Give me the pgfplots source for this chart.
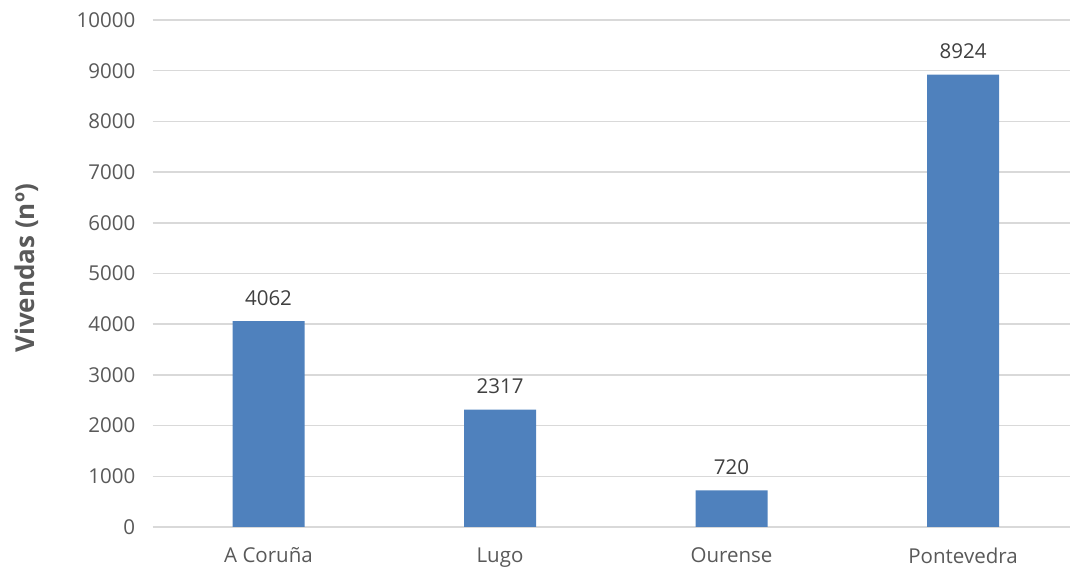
\documentclass[border=0pt]{standalone}
\usepackage{pgfplots}
\pgfplotsset{compat=1.18}
\usepackage{fontspec}
\setmainfont{Open Sans}
\definecolor{barc}{HTML}{4F81BD}
\definecolor{tickc}{HTML}{595959}
\definecolor{lblc}{HTML}{404040}
\definecolor{gridc}{HTML}{D9D9D9}
\begin{document}
\begin{tikzpicture}[x=1pt,y=1pt]
\path[use as bounding box] (-152.75,-40) rectangle (917.25,527);
\begin{axis}[at={(0,0)},anchor=south west, scale only axis,
  width=917.25pt, height=507pt,
  xmin=-0.5, xmax=3.462, ymin=0, ymax=10000,
  ytick={0,1000,...,10000}, xtick={0,1,2,3},
  xticklabels={A Coruña,Lugo,Ourense,Pontevedra},
  axis line style={draw=none}, major tick length=0pt,
  ymajorgrids, grid style={gridc, line width=1.5pt},
  ybar, bar width=72pt, bar shift=0pt,
  /pgf/number format/1000 sep={},
  /pgf/number format/assume math mode=true,
  scaled y ticks=false,
  nodes near coords,
  nodes near coords style={font=\fontsize{20.5}{24}\selectfont, text=lblc, yshift=12pt},
  ticklabel style={font=\fontsize{20.5}{24}\selectfont, text=tickc},
  yticklabel style={xshift=-14pt},
  xticklabel style={yshift=-17pt},
  ylabel={\textbf{Vivendas (nº)}},
  ylabel style={font=\fontsize{26}{30}\selectfont, text=tickc, at={(axis description cs:0,0.51)}, anchor=center, yshift=126pt},
]
\addplot[fill=barc, draw=none] coordinates {(0,4062)(1,2317)(2,720)(3,8924)};
\end{axis}
\end{tikzpicture}
\end{document}
